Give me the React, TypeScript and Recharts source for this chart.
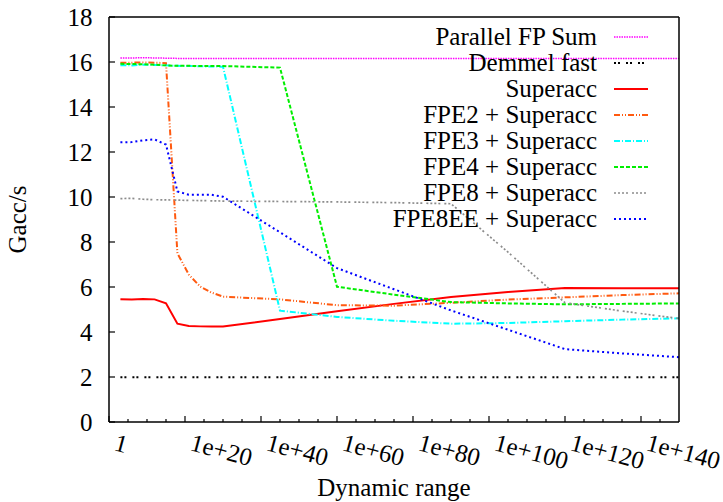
import React from 'react';
import { LineChart, Line, XAxis, YAxis, ReferenceLine, Legend, Label } from 'recharts';

// log10 of the dynamic range
const range = [3, 6, 9, 12, 15, 18, 21, 24, 27, 30, 45, 60, 75, 90, 105, 120, 135, 150];

const parallelSum = [16.18, 16.18, 16.19, 16.18, 16.17, 16.16, 16.16, 16.16, 16.16, 16.16, 16.16, 16.16, 16.16, 16.16, 16.16, 16.16, 16.16, 16.16];
const demmelFast = [1.99, 1.99, 1.99, 1.99, 1.99, 1.99, 1.99, 1.99, 1.99, 1.99, 1.99, 1.99, 1.99, 1.99, 1.99, 1.99, 1.99, 1.99];
const superacc = [5.46, 5.44, 5.47, 5.45, 5.28, 4.37, 4.27, 4.25, 4.24, 4.24, 4.58, 4.92, 5.25, 5.56, 5.78, 5.96, 5.95, 5.95];
const fpe2 = [15.97, 15.97, 15.98, 15.97, 15.95, 7.5, 6.55, 6.02, 5.75, 5.57, 5.45, 5.19, 5.17, 5.3, 5.44, 5.54, 5.64, 5.72];
const fpe3 = [15.86, 15.85, 15.88, 15.87, 15.85, 15.83, 15.82, 15.81, 15.8, 15.79, 4.95, 4.67, 4.5, 4.37, 4.4, 4.48, 4.55, 4.61];
const fpe4 = [15.92, 15.91, 15.9, 15.88, 15.85, 15.83, 15.83, 15.82, 15.82, 15.82, 15.75, 6.01, 5.66, 5.33, 5.27, 5.23, 5.25, 5.27];
const fpe8 = [9.93, 9.94, 9.9, 9.88, 9.87, 9.86, 9.85, 9.84, 9.83, 9.82, 9.8, 9.78, 9.75, 9.7, 7.55, 5.3, 4.93, 4.6];
const fpe8ee = [12.43, 12.44, 12.52, 12.56, 12.33, 10.25, 10.1, 10.1, 10.1, 10.01, 8.43, 6.84, 5.9, 4.96, 4.1, 3.24, 3.05, 2.88];

const xTicks = [0, 5, 10, 15, 20, 25, 30, 35, 40, 45, 50, 55, 60, 65, 70, 75, 80, 85, 90, 95, 100, 105, 110, 115, 120, 125, 130, 135, 140, 145];
const yTicks = [0, 2, 4, 6, 8, 10, 12, 14, 16, 18];

const series = [
  { key: 'parallel', name: 'Parallel FP Sum', values: parallelSum, color: '#ff00ff', dash: '1.5 1', width: 1.5 },
  { key: 'demmel', name: 'Demmel fast', values: demmelFast, color: '#000000', dash: '2 2 2 6', width: 2 },
  { key: 'superacc', name: 'Superacc', values: superacc, color: '#ff0000', dash: undefined, width: 2 },
  { key: 'fpe2', name: 'FPE2 + Superacc', values: fpe2, color: '#ff5a10', dash: '6 2 1 2 1 2', width: 2 },
  { key: 'fpe3', name: 'FPE3 + Superacc', values: fpe3, color: '#00ffff', dash: '6 2 1 2', width: 2 },
  { key: 'fpe4', name: 'FPE4 + Superacc', values: fpe4, color: '#00ee00', dash: '4 2', width: 2 },
  { key: 'fpe8', name: 'FPE8 + Superacc', values: fpe8, color: '#8c8c8c', dash: '2 2 2 2 2 2 2 4', width: 1.7 },
  { key: 'fpe8ee', name: 'FPE8EE + Superacc', values: fpe8ee, color: '#0000ff', dash: '2 3', width: 2 },
];

const data = range.map((x, i) => {
  const row: Record<string, number> = { x };
  series.forEach((s) => { row[s.key] = s.values[i]; });
  return row;
});

const FONT = "'Liberation Serif', 'Nimbus Roman', 'Nimbus Roman No9 L', Tinos, 'DejaVu Serif', 'Noto Serif', serif";

const XTick = ({ x, y, payload }: any) => {
  const v = payload.value;
  const major = v % 20 === 0;
  const label = v === 0 ? '1' : `1e+${v}`;
  const ox = x + 4;
  const oy = y + 28;
  return (
    <g>
      <line x1={x} x2={x} y1={y} y2={y - (major ? 6 : 3)} stroke="#000" strokeWidth={1.2} />
      {major && (
        <text x={ox} y={oy} transform={`rotate(15 ${ox} ${oy})`} fontSize={25} style={{ fontFamily: FONT }} fill="#000">
          {label}
        </text>
      )}
    </g>
  );
};

const YTickLeft = ({ x, y, payload }: any) => (
  <g>
    <line x1={x} x2={x + 6} y1={y} y2={y} stroke="#000" strokeWidth={1.2} />
    <text x={92.5} y={y + 8.5} textAnchor="end" fontSize={25} style={{ fontFamily: FONT }} fill="#000">
      {payload.value}
    </text>
  </g>
);

const YTickRight = ({ x, y }: any) => (
  <line x1={x} x2={x - 6} y1={y} y2={y} stroke="#000" strokeWidth={1.2} />
);

const renderLegend = () => (
  <div style={{ fontFamily: FONT, fontSize: 25, color: '#000' }}>
    {series.map((s) => (
      <div key={s.key} style={{ display: 'flex', alignItems: 'center', height: 26 }}>
        <span style={{ width: 267, textAlign: 'right', lineHeight: '26px', whiteSpace: 'nowrap' }}>{s.name}</span>
        <svg width={51} height={26} style={{ display: 'block' }}>
          <line x1={17} x2={51} y1={13} y2={13} stroke={s.color} strokeWidth={s.width} strokeDasharray={s.dash} />
        </svg>
      </div>
    ))}
  </div>
);

export default function App() {
  return (
    <div style={{ position: 'absolute', left: 0, top: 0, width: 723, height: 502, background: '#fff', fontFamily: FONT }}>
      <LineChart width={723} height={502} data={data} margin={{ top: 17, right: 0, bottom: 0, left: 0 }}>
        <XAxis
          dataKey="x"
          type="number"
          domain={[0, 150]}
          ticks={xTicks}
          interval={0}
          height={80}
          tickSize={0}
          tickMargin={0}
          tickLine={false}
          axisLine={{ stroke: '#000', strokeWidth: 1.5 }}
          tick={<XTick />}
        >
          <Label
            content={({ viewBox }: any) => (
              <text x={viewBox.x + viewBox.width / 2} y={495.5} textAnchor="middle" fontSize={25} style={{ fontFamily: FONT }} fill="#000">
                Dynamic range
              </text>
            )}
          />
        </XAxis>
        <YAxis
          domain={[0, 18]}
          ticks={yTicks}
          interval={0}
          width={109}
          tickSize={0}
          tickMargin={0}
          tickLine={false}
          axisLine={{ stroke: '#000', strokeWidth: 1.5 }}
          tick={<YTickLeft />}
        >
          <Label
            content={({ viewBox }: any) => {
              const cy = viewBox.y + viewBox.height / 2;
              return (
                <text x={26} y={cy} transform={`rotate(-90 26 ${cy})`} textAnchor="middle" fontSize={25} style={{ fontFamily: FONT }} fill="#000">
                  Gacc/s
                </text>
              );
            }}
          />
        </YAxis>
        <YAxis
          yAxisId="r"
          orientation="right"
          domain={[0, 18]}
          ticks={yTicks}
          interval={0}
          width={44}
          tickSize={0}
          tickMargin={0}
          tickLine={false}
          axisLine={{ stroke: '#000', strokeWidth: 1.5 }}
          tick={<YTickRight />}
        />
        <ReferenceLine y={18} stroke="#000" strokeWidth={1.5} />
        {series.map((s) => (
          <Line
            key={s.key}
            dataKey={s.key}
            name={s.name}
            type="linear"
            stroke={s.color}
            strokeWidth={s.width}
            strokeDasharray={s.dash}
            dot={false}
            activeDot={false}
            isAnimationActive={false}
          />
        ))}
        <Legend
          content={renderLegend}
          layout="horizontal"
          verticalAlign="middle"
          wrapperStyle={{ position: 'absolute', left: 330, top: 23.7, width: 330 }}
        />
      </LineChart>
    </div>
  );
}
